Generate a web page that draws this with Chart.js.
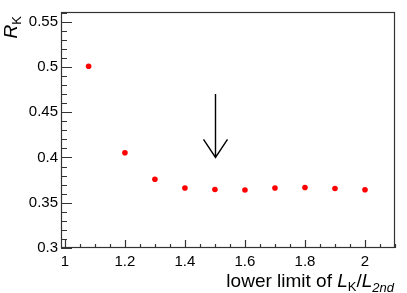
<!DOCTYPE html>
<html lang="en">
<head>
  <meta charset="UTF-8">
  <title>R_K vs lower limit</title>
  <script src="https://cdn.jsdelivr.net/npm/chart.js"></script>
  <style>
    html, body { margin: 0; padding: 0; background: #fff; }
    #wrap { width: 407px; height: 293px; }
  </style>
</head>
<body>
  <div id="wrap"><canvas id="rk"></canvas></div>

  <script>
    // measured points
    const lowerLimit = [1.079, 1.2, 1.3, 1.4, 1.5, 1.6, 1.7, 1.8, 1.9, 2.0];
    const rkValues = [0.5007, 0.4052, 0.3759, 0.3662, 0.3647, 0.3641, 0.3662, 0.3668, 0.3658, 0.3644];

    // axes
    const xTicks = [1, 1.2, 1.4, 1.6, 1.8, 2];
    const xTickLabels = ['1', '1.2', '1.4', '1.6', '1.8', '2'];
    const yTicks = [0.3, 0.35, 0.4, 0.45, 0.5, 0.55];
    const yTickLabels = ['0.3', '0.35', '0.4', '0.45', '0.5', '0.55'];
    const xMinorStep = 0.05;
    const yMinorStep = 0.01;

    // arrow marking the chosen cut
    const arrowX = 1.5;
    const arrowY = [0.47, 0.40];

    const FONT = '"Liberation Sans", Arial, Helvetica, sans-serif';

    function drawRich(ctx, parts, x, y, align) {
      let total = 0;
      parts.forEach(p => { ctx.font = p.font; total += ctx.measureText(p.text).width; });
      let cx = align === 'right' ? x - total : x;
      parts.forEach(p => {
        ctx.font = p.font;
        ctx.fillText(p.text, cx, y + (p.dy || 0));
        cx += ctx.measureText(p.text).width;
      });
    }

    const framePlugin = {
      id: 'rootFrame',
      afterDraw(chart) {
        const ctx = chart.ctx;
        const a = chart.chartArea;
        const xs = chart.scales.x, ys = chart.scales.y;
        ctx.save();
        ctx.strokeStyle = '#333';
        ctx.lineWidth = 1.2;
        ctx.strokeRect(a.left + 0.5, a.top + 0.5, a.right - a.left - 1, a.bottom - a.top - 1);

        // inward ticks, x
        ctx.beginPath();
        const xStart = Math.ceil(xs.min / xMinorStep) * xMinorStep;
        for (let v = xStart; v <= xs.max + 1e-9; v += xMinorStep) {
          const px = Math.round(xs.getPixelForValue(v)) + 0.5;
          const major = xTicks.some(t => Math.abs(t - v) < 1e-6);
          const len = major ? 8 : 4;
          ctx.moveTo(px, a.bottom);
          ctx.lineTo(px, a.bottom - len);
        }
        // inward ticks, y
        const yStart = Math.ceil(ys.min / yMinorStep - 1e-6) * yMinorStep;
        for (let v = yStart; v <= ys.max + 1e-9; v += yMinorStep) {
          const py = Math.round(ys.getPixelForValue(v)) + 0.5;
          const major = yTicks.some(t => Math.abs(t - v) < 1e-6);
          const len = major ? 11 : 6;
          ctx.moveTo(a.left, py);
          ctx.lineTo(a.left + len, py);
        }
        ctx.stroke();

        // arrow
        const ax = Math.round(xs.getPixelForValue(arrowX)) + 0.5;
        const ay0 = ys.getPixelForValue(arrowY[0]);
        const ay1 = ys.getPixelForValue(arrowY[1]);
        ctx.strokeStyle = '#000';
        ctx.lineWidth = 1.4;
        ctx.beginPath();
        ctx.moveTo(ax, ay0);
        ctx.lineTo(ax, ay1);
        ctx.moveTo(ax - 12, ay1 - 18);
        ctx.lineTo(ax, ay1);
        ctx.lineTo(ax + 12, ay1 - 18);
        ctx.stroke();

        // axis titles
        ctx.fillStyle = '#000';
        ctx.textBaseline = 'alphabetic';
        drawRich(ctx, [
          { text: 'lower limit of ', font: '19px ' + FONT },
          { text: 'L', font: 'italic 19px ' + FONT },
          { text: 'K', font: '13px ' + FONT, dy: 4 },
          { text: '/', font: '19px ' + FONT },
          { text: 'L', font: 'italic 19px ' + FONT },
          { text: '2nd', font: 'italic 13px ' + FONT, dy: 5 }
        ], a.right - 1, 287, 'right');

        ctx.translate(17, 16);
        ctx.rotate(-Math.PI / 2);
        drawRich(ctx, [
          { text: 'R', font: 'italic 19px ' + FONT },
          { text: 'K', font: '13px ' + FONT, dy: 4 }
        ], 0, 0, 'right');
        ctx.restore();
      }
    };

    new Chart(document.getElementById('rk'), {
      type: 'scatter',
      data: {
        datasets: [{
          data: lowerLimit.map((x, i) => ({ x: x, y: rkValues[i] })),
          backgroundColor: '#ff0000',
          borderColor: '#ff0000',
          pointRadius: 2.8,
          pointBorderWidth: 0
        }]
      },
      options: {
        responsive: true,
        maintainAspectRatio: false,
        animation: false,
        layout: { padding: { top: 5, right: 12, left: 0, bottom: 0 } },
        plugins: { legend: { display: false }, tooltip: { enabled: false } },
        scales: {
          x: {
            type: 'linear',
            min: 0.987,
            max: 2.1,
            grid: { display: false, drawTicks: false },
            border: { display: false },
            afterBuildTicks: s => { s.ticks = xTicks.map(v => ({ value: v })); },
            afterFit: s => { s.height = 45; },
            ticks: {
              padding: 5,
              color: '#000',
              font: { family: FONT, size: 15 },
              maxRotation: 0,
              callback: (v) => xTickLabels[xTicks.findIndex(t => Math.abs(t - v) < 1e-6)]
            }
          },
          y: {
            type: 'linear',
            min: 0.3,
            max: 0.5607,
            grid: { display: false, drawTicks: false },
            border: { display: false },
            afterBuildTicks: s => { s.ticks = yTicks.map(v => ({ value: v })); },
            afterFit: s => { s.width = 61; },
            ticks: {
              padding: 3,
              color: '#000',
              font: { family: FONT, size: 15 },
              callback: (v) => yTickLabels[yTicks.findIndex(t => Math.abs(t - v) < 1e-6)]
            }
          }
        }
      },
      plugins: [framePlugin]
    });
  </script>
</body>
</html>
